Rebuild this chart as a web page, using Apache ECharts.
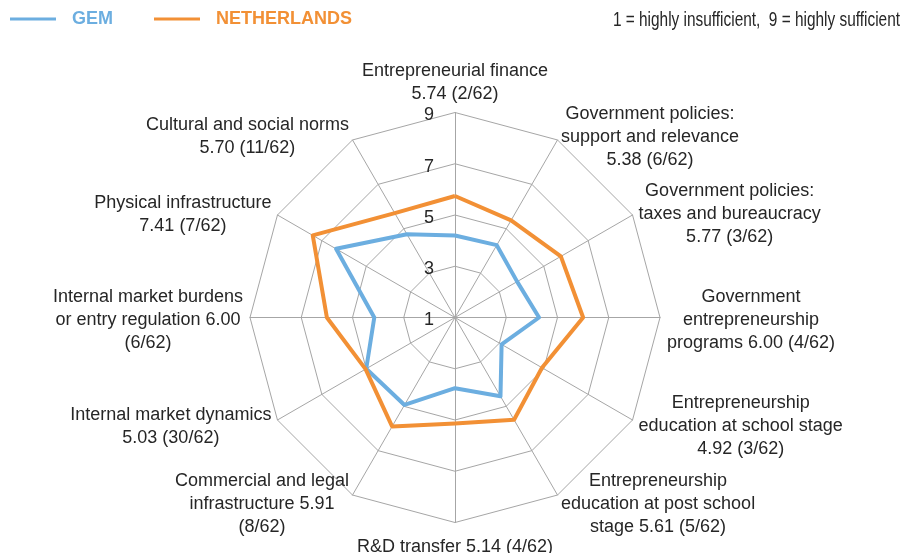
<!DOCTYPE html>
<html>
<head>
<meta charset="utf-8">
<script src="https://cdn.jsdelivr.net/npm/echarts@6/dist/echarts.min.js"></script>
<style>
  html, body { margin: 0; padding: 0; background: #ffffff; }
  #chart { width: 918px; height: 553px; }
</style>
</head>
<body>
<div id="chart"></div>
<script>
// Framework conditions, clockwise from the top
const conditions = [
  'Entrepreneurial finance',
  'Government policies: support and relevance',
  'Government policies: taxes and bureaucracy',
  'Government entrepreneurship programs',
  'Entrepreneurship education at school stage',
  'Entrepreneurship education at post school stage',
  'R&D transfer',
  'Commercial and legal infrastructure',
  'Internal market dynamics',
  'Internal market burdens or entry regulation',
  'Physical infrastructure',
  'Cultural and social norms'
];

// Wrapped label templates; {s} = Netherlands score, {r} = "(rank/total)"
const labelTemplates = [
  'Entrepreneurial finance\n{s} {r}',
  'Government policies:\nsupport and relevance\n{s} {r}',
  'Government policies:\ntaxes and bureaucracy\n{s} {r}',
  'Government\nentrepreneurship\nprograms {s} {r}',
  'Entrepreneurship\neducation at school stage\n{s} {r}',
  'Entrepreneurship\neducation at post school\nstage {s} {r}',
  'R&D transfer {s} {r}',
  'Commercial and legal\ninfrastructure {s}\n{r}',
  'Internal market dynamics\n{s} {r}',
  'Internal market burdens\nor entry regulation {s}\n{r}',
  'Physical infrastructure\n{s} {r}',
  'Cultural and social norms\n{s} {r}'
];

// Scores on the 1–9 scale
const gemScores = [4.20, 4.26, 3.80, 4.28, 3.10, 4.55, 3.76, 4.94, 5.00, 4.15, 6.36, 4.75];
const netherlandsScores = [5.74, 5.38, 5.77, 6.00, 4.92, 5.61, 5.14, 5.91, 5.03, 6.00, 7.41, 5.70];
const netherlandsRanks = [2, 6, 3, 4, 3, 5, 4, 8, 30, 6, 7, 11];
const economiesTotal = 62;

const scaleMin = 1;
const scaleMax = 9;
const scaleNote = '1 = highly insufficient,  9 = highly sufficient';

const seriesNames = ['GEM', 'NETHERLANDS'];
const BLUE = '#6caee0';
const ORANGE = '#f29035';
const GRID = '#a6a6a6';
const TEXT = '#262626';
const FONT = '"Liberation Sans", Arial, sans-serif';

// Label text for each axis, with the Netherlands score and rank filled in
const labelText = labelTemplates.map((t, i) =>
  t.replace('{s}', netherlandsScores[i].toFixed(2))
   .replace('{r}', '(' + netherlandsRanks[i] + '/' + economiesTotal + ')')
);

// ECharts lays radar indicators out counter-clockwise; walk the list
// backwards (keeping the first at the top) so the axes run clockwise.
const order = conditions.map((_, i) => (conditions.length - i) % conditions.length);

const indicators = order.map((i, k) => {
  const ind = { name: conditions[i], min: scaleMin, max: scaleMax };
  if (k === 0) {
    // Scale values are printed along the top axis only
    ind.axisLabel = {
      show: true,
      color: TEXT,
      fontFamily: FONT,
      fontSize: 18,
      margin: 21,
      verticalAlign: 'top',
      lineHeight: 6
    };
  }
  return ind;
});

const chart = echarts.init(document.getElementById('chart'), null, { renderer: 'canvas' });

chart.setOption({
  animation: false,
  backgroundColor: '#ffffff',
  graphic: [{
    // Scale note, top right, drawn slightly condensed
    type: 'text',
    x: 900,
    y: 20,
    scaleX: 0.77,
    style: {
      text: scaleNote,
      font: '20px "Liberation Sans", Arial, sans-serif',
      fill: TEXT,
      align: 'right',
      verticalAlign: 'middle'
    }
  }],
  legend: {
    left: 5,
    top: 5,
    icon: 'rect',
    itemWidth: 46,
    itemHeight: 3,
    itemGap: 41,
    selectedMode: false,
    data: [
      { name: seriesNames[0], itemStyle: { color: BLUE }, textStyle: { color: BLUE } },
      { name: seriesNames[1], itemStyle: { color: ORANGE }, textStyle: { color: ORANGE } }
    ],
    textStyle: {
      fontFamily: FONT,
      fontWeight: 'bold',
      fontSize: 18,
      padding: [0, 0, 0, 11]
    }
  },
  radar: {
    center: [455, 317.5],
    radius: 205,
    startAngle: 90,
    shape: 'polygon',
    splitNumber: 4,
    indicator: indicators,
    nameGap: 7,
    axisName: {
      color: TEXT,
      fontFamily: FONT,
      fontSize: 18,
      padding: [6, 0, 0, 0],
      formatter: function (name) {
        const idx = conditions.indexOf(name);
        return labelText[idx].split('\n').map(l => '{c|' + l + '}').join('\n');
      },
      rich: {
        c: {
          align: 'center',
          color: TEXT,
          fontFamily: FONT,
          fontSize: 18,
          lineHeight: 23
        }
      }
    },
    axisLabel: { show: false },
    axisTick: { show: false },
    axisLine: { lineStyle: { color: GRID, width: 1 } },
    splitLine: { lineStyle: { color: GRID, width: 1 } },
    splitArea: { show: false }
  },
  series: [{
    type: 'radar',
    symbol: 'none',
    data: [
      {
        name: seriesNames[0],
        value: order.map(i => gemScores[i]),
        itemStyle: { color: BLUE },
        lineStyle: { color: BLUE, width: 4 }
      },
      {
        name: seriesNames[1],
        value: order.map(i => netherlandsScores[i]),
        itemStyle: { color: ORANGE },
        lineStyle: { color: ORANGE, width: 4 }
      }
    ]
  }]
});
</script>
</body>
</html>
